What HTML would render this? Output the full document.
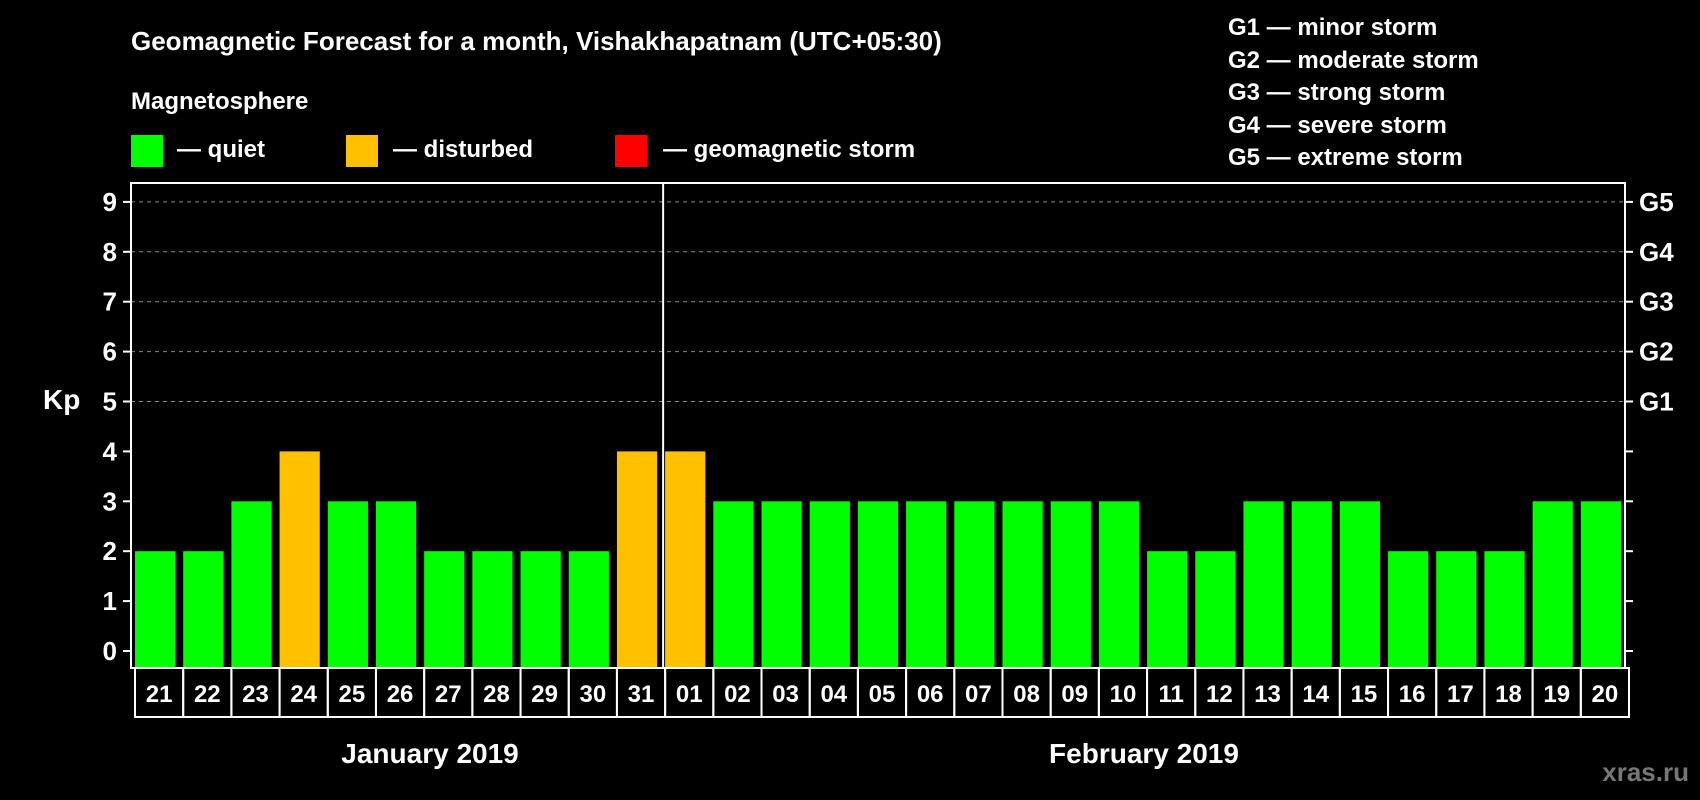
<!DOCTYPE html>
<html><head><meta charset="utf-8"><style>
body{margin:0;background:#000;}
svg{display:block;font-family:"Liberation Sans",sans-serif;font-weight:bold;}
</style></head><body>
<svg id="c" width="1700" height="800" viewBox="0 0 1700 800">
<rect width="1700" height="800" fill="#000"/>
<text x="131" y="50" fill="#fff" font-size="26">Geomagnetic Forecast for a month, Vishakhapatnam (UTC+05:30)</text>
<text x="131" y="109" fill="#fff" font-size="24">Magnetosphere</text>
<g><rect x="131" y="135" width="32" height="32" fill="#00ff00"/><text x="177" y="157" fill="#fff" font-size="24">— quiet</text></g>
<g><rect x="346" y="135" width="32" height="32" fill="#ffc000"/><text x="393" y="157" fill="#fff" font-size="24">— disturbed</text></g>
<g><rect x="615" y="135" width="32" height="32" fill="#ff0000"/><text x="663" y="157" fill="#fff" font-size="24">— geomagnetic storm</text></g>
<g fill="#fff" font-size="24">
<text x="1228" y="35">G1 — minor storm</text>
<text x="1228" y="68">G2 — moderate storm</text>
<text x="1228" y="100">G3 — strong storm</text>
<text x="1228" y="133">G4 — severe storm</text>
<text x="1228" y="165">G5 — extreme storm</text>
</g>
<text x="43" y="409" fill="#fff" font-size="28">Kp</text>
<text x="1689" y="781" fill="#777" font-size="26" text-anchor="end">xras.ru</text>
<text x="430" y="763" fill="#fff" font-size="28" text-anchor="middle">January 2019</text>
<text x="1144" y="763" fill="#fff" font-size="28" text-anchor="middle">February 2019</text>
<g id="plot"></g>
</svg>
<script>
const days=["21","22","23","24","25","26","27","28","29","30","31","01","02","03","04","05","06","07","08","09","10","11","12","13","14","15","16","17","18","19","20"];
const kpValues=[2,2,3,4,3,3,2,2,2,2,4,4,3,3,3,3,3,3,3,3,3,2,2,3,3,3,2,2,2,3,3];
const yTicks=[0,1,2,3,4,5,6,7,8,9];
const gLabels=["","","","","","G1","G2","G3","G4","G5"];
const NS="http://www.w3.org/2000/svg";
const L=131,R=1625,T=183,B=668,Y0=651,U=49.9;
const bw=(R-L)/days.length;
const y=v=>Y0-v*U;
const x=i=>L+i*bw;
const g=document.getElementById('plot');
function mk(t,a){const e=document.createElementNS(NS,t);for(const k in a)e.setAttribute(k,a[k]);g.appendChild(e);return e;}
yTicks.forEach(v=>{
  if(v>=5){const gl=mk('line',{x1:L,x2:R,y1:y(v),y2:y(v),stroke:'#888','stroke-dasharray':'4,4','stroke-width':1});
  }
  mk('line',{x1:L-8,x2:L,y1:y(v),y2:y(v),stroke:'#fff','stroke-width':2});
  mk('line',{x1:R,x2:R+8,y1:y(v),y2:y(v),stroke:'#fff','stroke-width':2});
  const t=mk('text',{x:L-14,y:y(v)+9,fill:'#fff','font-size':26,'text-anchor':'end'});t.textContent=v;
  
  if(gLabels[v]){const gt=mk('text',{x:R+14,y:y(v)+9,fill:'#fff','font-size':26});gt.textContent=gLabels[v];
  }
});
kpValues.forEach((v,i)=>{
  const c=v>=5?'#ff0000':(v>=4?'#ffc000':'#00ff00');
  const r=mk('rect',{x:x(i)+4,y:y(v),width:bw-8,height:B-y(v)-1,fill:c});
  
  const b=mk('rect',{x:x(i)+4,y:B,width:bw,height:49,fill:'none',stroke:'#fff','stroke-width':2});
  const t=mk('text',{x:x(i)+4+bw/2,y:B+34,fill:'#fff','font-size':24,'text-anchor':'middle'});t.textContent=days[i];
  
});
mk('rect',{x:L,y:T,width:R-L,height:B-T,fill:'none',stroke:'#fff','stroke-width':2});
const di=days.indexOf("01");
mk('line',{x1:x(di)+2,x2:x(di)+2,y1:T,y2:B,stroke:'#fff','stroke-width':2});
</script>
</body></html>
